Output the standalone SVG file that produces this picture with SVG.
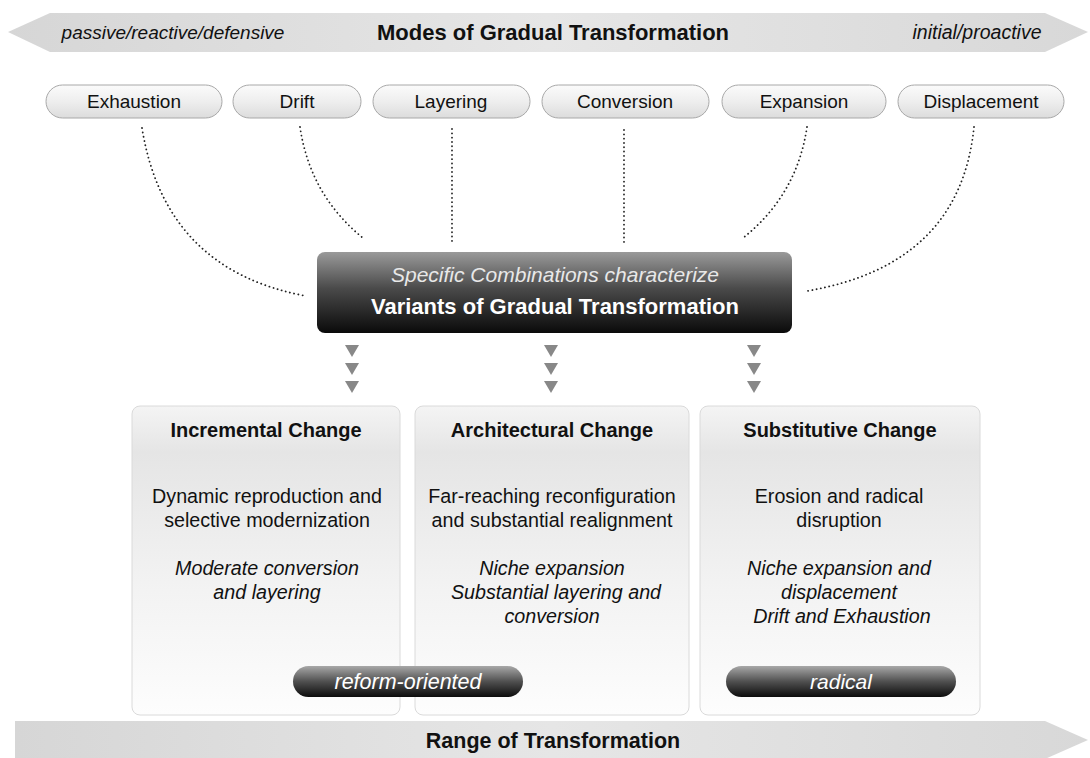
<svg xmlns="http://www.w3.org/2000/svg" width="1090" height="758" viewBox="0 0 1090 758">
<defs>
  <linearGradient id="gArrow" x1="0" y1="0" x2="1" y2="0">
    <stop offset="0" stop-color="#d6d6d6"/>
    <stop offset="0.5" stop-color="#e6e6e6"/>
    <stop offset="1" stop-color="#d8d8d8"/>
  </linearGradient>
  <linearGradient id="gPill" x1="0" y1="0" x2="0" y2="1">
    <stop offset="0" stop-color="#fbfbfb"/>
    <stop offset="0.5" stop-color="#eeeeee"/>
    <stop offset="1" stop-color="#dcdcdc"/>
  </linearGradient>
  <linearGradient id="gDark" x1="0" y1="0" x2="0" y2="1">
    <stop offset="0" stop-color="#9a9a9a"/>
    <stop offset="0.45" stop-color="#4a4a4a"/>
    <stop offset="1" stop-color="#0a0a0a"/>
  </linearGradient>
  <linearGradient id="gDarkPill" x1="0" y1="0" x2="0" y2="1">
    <stop offset="0" stop-color="#a8a8a8"/>
    <stop offset="0.5" stop-color="#505050"/>
    <stop offset="1" stop-color="#0c0c0c"/>
  </linearGradient>
  <linearGradient id="gBox" x1="0" y1="0" x2="0" y2="1">
    <stop offset="0" stop-color="#f4f4f4"/>
    <stop offset="0.15" stop-color="#e5e5e5"/>
    <stop offset="0.6" stop-color="#f3f3f3"/>
    <stop offset="1" stop-color="#fdfdfd"/>
  </linearGradient>
  <style>
    .t { font-family: "Liberation Sans", Arial, sans-serif; fill: #111; text-anchor: middle; }
    .b { font-weight: bold; }
    .i { font-style: italic; }
    .pill { fill: url(#gPill); stroke: #a8a8a8; stroke-width: 1; }
    .box { fill: url(#gBox); stroke: #dadada; stroke-width: 1; }
    .dot { fill: none; stroke: #222; stroke-width: 1.8; stroke-dasharray: 0.1 4.2; stroke-linecap: round; }
    .tri { fill: #888; }
    .w { fill: #fff; }
    .pt { font-size: 19px; }
    .bd { font-size: 19.7px; }
  </style>
</defs>
<rect width="1090" height="758" fill="#fff"/>

<g id="top-arrow">
  <polygon points="8,32 50,13 1045,13 1088,32 1045,52 50,52" fill="url(#gArrow)"/>
  <text class="t i" x="173" y="39" font-size="19">passive/reactive/defensive</text>
  <text class="t b" x="553" y="40" font-size="22">Modes of Gradual Transformation</text>
  <text class="t i" x="977" y="39" font-size="19.5">initial/proactive</text>
</g>

<g id="connectors">
  <path class="dot" d="M142,128 Q165,270 306,296"/>
  <path class="dot" d="M300,127 Q310,195 363,238"/>
  <path class="dot" d="M452,129 L452,243"/>
  <path class="dot" d="M624,130 L624,245"/>
  <path class="dot" d="M807,127 Q797,195 743,238"/>
  <path class="dot" d="M974,127 Q960,265 807,291"/>
  <g class="tri">
    <polygon points="345,345 359,345 352,357"/>
    <polygon points="345,363 359,363 352,375"/>
    <polygon points="345,381 359,381 352,393"/>
    <polygon points="544,345 558,345 551,357"/>
    <polygon points="544,363 558,363 551,375"/>
    <polygon points="544,381 558,381 551,393"/>
    <polygon points="747,345 761,345 754,357"/>
    <polygon points="747,363 761,363 754,375"/>
    <polygon points="747,381 761,381 754,393"/>
  </g>
</g>

<g id="mode-exhaustion">
  <rect class="pill" x="46" y="85" width="176" height="33" rx="16.5"/>
  <text class="t pt" x="134" y="108">Exhaustion</text>
</g>
<g id="mode-drift">
  <rect class="pill" x="233" y="85" width="128" height="33" rx="16.5"/>
  <text class="t pt" x="297" y="108">Drift</text>
</g>
<g id="mode-layering">
  <rect class="pill" x="373" y="85" width="157" height="33" rx="16.5"/>
  <text class="t pt" x="451" y="108">Layering</text>
</g>
<g id="mode-conversion">
  <rect class="pill" x="542" y="85" width="167" height="33" rx="16.5"/>
  <text class="t pt" x="625" y="108">Conversion</text>
</g>
<g id="mode-expansion">
  <rect class="pill" x="722" y="85" width="164" height="33" rx="16.5"/>
  <text class="t pt" x="804" y="108">Expansion</text>
</g>
<g id="mode-displacement">
  <rect class="pill" x="898" y="85" width="166" height="33" rx="16.5"/>
  <text class="t pt" x="981" y="108">Displacement</text>
</g>

<g id="variants">
  <rect x="317" y="252" width="475" height="81" rx="8" fill="url(#gDark)"/>
  <text class="t i" x="555" y="282" font-size="21" style="fill:#e8e8e8">Specific Combinations characterize</text>
  <text class="t b w" x="555" y="314" font-size="22">Variants of Gradual Transformation</text>
</g>

<g id="incremental">
  <rect class="box" x="132" y="406" width="268" height="309" rx="8"/>
  <text class="t b" x="266" y="437" font-size="20">Incremental Change</text>
  <text class="t bd" x="267" y="503">Dynamic reproduction and</text>
  <text class="t bd" x="267" y="527">selective modernization</text>
  <text class="t i bd" x="267" y="575">Moderate conversion</text>
  <text class="t i bd" x="267" y="599">and layering</text>
</g>
<g id="architectural">
  <rect class="box" x="415" y="406" width="274" height="309" rx="8"/>
  <text class="t b" x="552" y="437" font-size="20">Architectural Change</text>
  <text class="t bd" x="552" y="503">Far-reaching reconfiguration</text>
  <text class="t bd" x="552" y="527">and substantial realignment</text>
  <text class="t i bd" x="552" y="575">Niche expansion</text>
  <text class="t i bd" x="556" y="599">Substantial layering and</text>
  <text class="t i bd" x="552" y="623">conversion</text>
</g>
<g id="substitutive">
  <rect class="box" x="700" y="406" width="280" height="309" rx="8"/>
  <text class="t b" x="840" y="437" font-size="20">Substitutive Change</text>
  <text class="t bd" x="839" y="503">Erosion and radical</text>
  <text class="t bd" x="839" y="527">disruption</text>
  <text class="t i bd" x="839" y="575">Niche expansion and</text>
  <text class="t i bd" x="839" y="599">displacement</text>
  <text class="t i bd" x="842" y="623">Drift and Exhaustion</text>
</g>

<g id="reform-oriented">
  <rect x="293" y="666" width="230" height="31" rx="15.5" fill="url(#gDarkPill)"/>
  <text class="t i w" x="408" y="689" font-size="21.5">reform-oriented</text>
</g>
<g id="radical">
  <rect x="726" y="666" width="230" height="31" rx="15.5" fill="url(#gDarkPill)"/>
  <text class="t i w" x="841" y="689" font-size="21">radical</text>
</g>

<g id="bottom-arrow">
  <polygon points="15,721 1045,721 1088,740 1045,759 15,759" fill="url(#gArrow)"/>
  <text class="t b" x="553" y="748" font-size="21.5">Range of Transformation</text>
</g>
</svg>
